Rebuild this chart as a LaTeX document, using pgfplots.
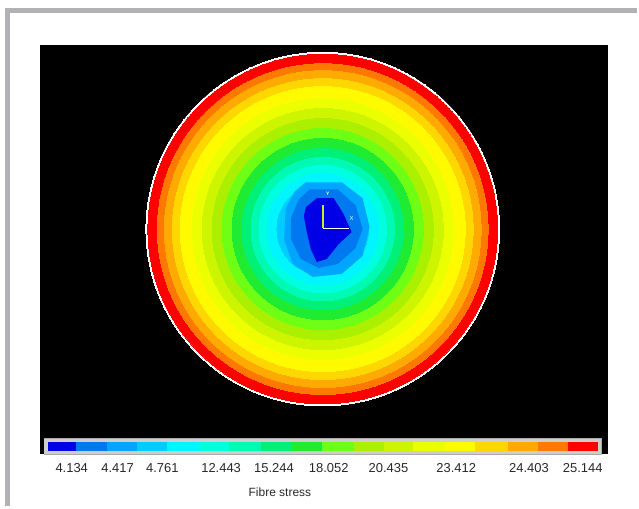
\documentclass[border=0pt]{standalone}
\usepackage{pgfplots}
\pgfplotsset{compat=1.18}
\usepackage{fontspec}
\setmainfont{Liberation Sans}
\definecolor{c1}{RGB}{0,0,230}
\definecolor{c2}{RGB}{0,120,240}
\definecolor{c3}{RGB}{0,165,255}
\definecolor{c4}{RGB}{0,205,255}
\definecolor{c5}{RGB}{0,245,255}
\definecolor{c6}{RGB}{0,255,225}
\definecolor{c7}{RGB}{0,250,180}
\definecolor{c8}{RGB}{0,240,120}
\definecolor{c9}{RGB}{30,235,50}
\definecolor{c10}{RGB}{110,255,20}
\definecolor{c11}{RGB}{170,240,0}
\definecolor{c12}{RGB}{205,245,0}
\definecolor{c13}{RGB}{235,255,0}
\definecolor{c14}{RGB}{255,250,0}
\definecolor{c15}{RGB}{255,215,0}
\definecolor{c16}{RGB}{255,170,0}
\definecolor{c17}{RGB}{255,120,0}
\definecolor{c18}{RGB}{255,0,0}
\definecolor{frame}{RGB}{178,178,182}
\definecolor{barframe}{RGB}{205,205,205}
\newcommand{\band}[2]{\addplot[color=#2, only marks, mark=*, mark size=#1pt, mark options={fill=#2, draw=#2, line width=0pt}] coordinates {(324,230)};}
\newcommand{\cell}[3]{\addplot[fill=#3, draw=none] coordinates {(#1,444) (#2,444) (#2,453) (#1,453)};}
\begin{document}
\begin{tikzpicture}
\begin{axis}[x=1pt, y=1pt, xmin=0, xmax=639, ymin=0, ymax=508, y dir=reverse,
  hide axis, clip=false, scale only axis, set layers]
% page extent
\addplot[draw=none] coordinates {(0,0) (639,508)};
% outer grey frame
\addplot[draw=frame, line width=5pt, line join=miter] coordinates {(7.5,508) (7.5,10.5) (639,10.5)};
% black field
\addplot[fill=black, draw=none] coordinates {(40,45) (610,45) (610,456) (40,456)};
% contour bands (outer radius, colour)
\band{177.5}{white}
\band{175.5}{c18}
\band{166}{c17}
\band{159}{c16}
\band{151}{c15}
\band{143}{c14}
\band{131}{c13}
\band{121}{c12}
\band{111}{c11}
\band{101}{c10}
\band{91}{c9}
\band{81}{c8}
\band{72}{c7}
\band{64}{c6}
\band{56}{c5}
\band{46}{c4}
% inner irregular contours
\addplot[on layer=axis foreground, fill=c3, draw=none] coordinates {(307,183) (343,183) (364,199) (371,228) (364,257) (343,275) (314,278) (294,265) (285,240) (287,209) (296,192)};
\addplot[on layer=axis foreground, fill=c2, draw=none] coordinates {(311,190) (339,190) (357,206) (364,230) (357,249) (339,265) (320,269) (302,260) (292,240) (292,219) (300,200)};
\addplot[on layer=axis foreground, fill=c1, draw=none] coordinates {(318,199) (335,199) (345,215) (353,233) (340,245) (328,260) (318,263) (312,250) (308,233) (305,217) (307,208)};
% local axis triad
\addplot[on layer=axis foreground, draw={rgb,255:red,200;green,235;blue,40}, line width=1.6pt] coordinates {(324,206) (324,229)};
\addplot[on layer=axis foreground, draw=white, line width=1.2pt] coordinates {(324,229) (350,229)};
\begin{pgfonlayer}{axis foreground}
\node[text=white, font=\fontsize{5}{6}\selectfont\bfseries] at (axis cs:329,195) {Y};
\node[text=white, font=\fontsize{6}{7}\selectfont] at (axis cs:353,219) {X};
\end{pgfonlayer}
% colour bar
\addplot[fill=barframe, draw={rgb,255:red,170;green,170;blue,170}] coordinates {(44,440) (604,440) (604,456) (44,456)};
\cell{48}{76}{c1}
\cell{76}{107}{c2}
\cell{107}{138}{c3}
\cell{138}{168}{c4}
\cell{168}{200}{c5}
\cell{200}{230}{c6}
\cell{230}{262}{c7}
\cell{262}{293}{c8}
\cell{293}{323}{c9}
\cell{323}{355}{c10}
\cell{355}{385}{c11}
\cell{385}{415}{c12}
\cell{415}{447}{c13}
\cell{447}{477}{c14}
\cell{477}{510}{c15}
\cell{510}{540}{c16}
\cell{540}{570}{c17}
\cell{570}{600}{c18}
\foreach \xx/\lab in {72/4.134, 118/4.417, 163/4.761, 222/12.443, 275/15.244, 330/18.052, 390/20.435, 458/23.412, 531/24.403, 585/25.144}{
  \edef\tmp{\noexpand\node[font=\noexpand\fontsize{13}{15}\noexpand\selectfont, text={rgb,255:red,40;green,40;blue,40}] at (axis cs:\xx,470) {\lab};}
  \tmp
}
\node[font=\fontsize{12}{14}\selectfont, text={rgb,255:red,40;green,40;blue,40}] at (axis cs:281,494) {Fibre stress};
\end{axis}
\end{tikzpicture}
\end{document}
